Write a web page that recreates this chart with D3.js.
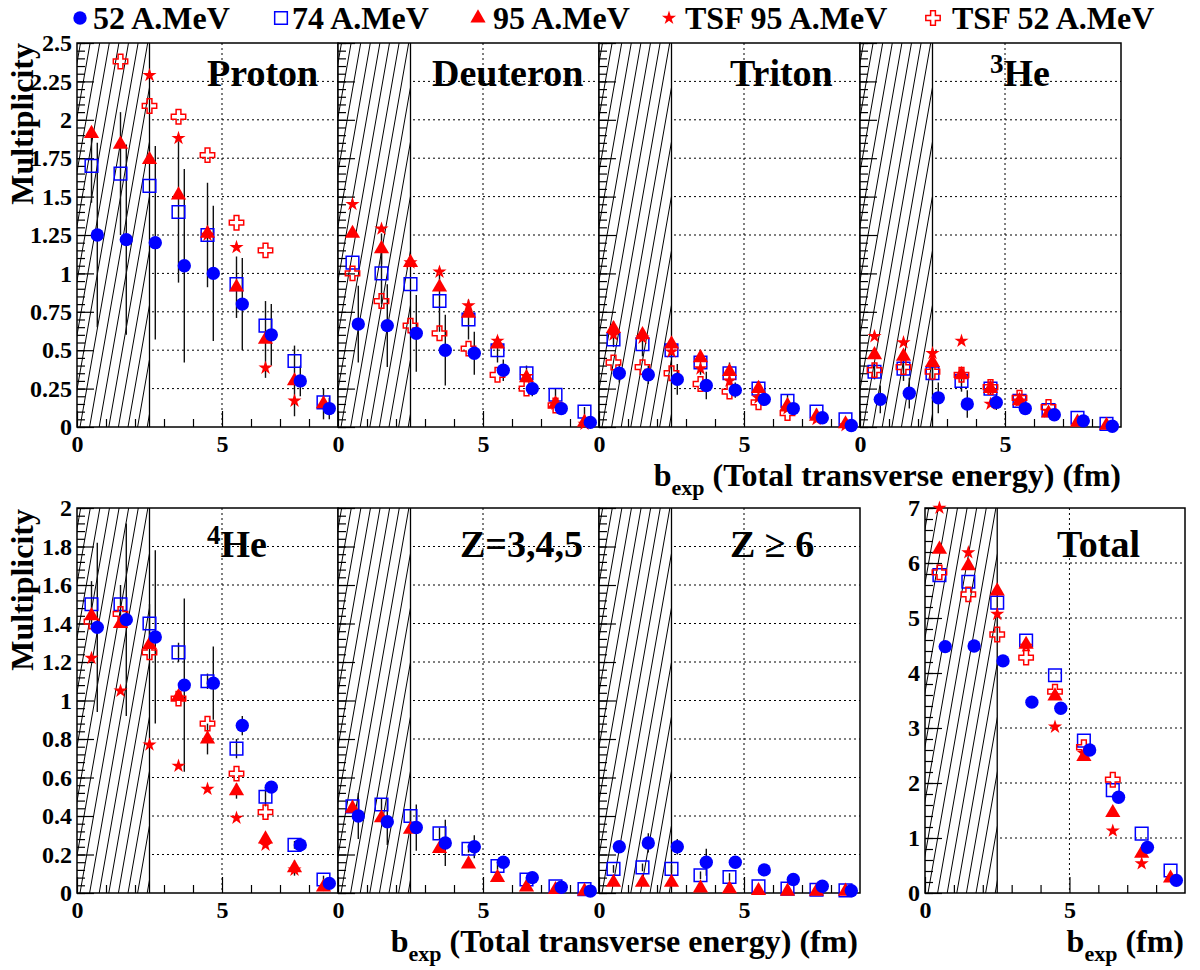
<!DOCTYPE html>
<html>
<head>
<meta charset="utf-8">
<script src="https://cdn.jsdelivr.net/npm/d3@7"></script>
<style>
  body { margin: 0; background: #fff; }
  svg text { font-family: "Liberation Serif", Tinos, "Times New Roman", Times, "Nimbus Roman", "Nimbus Roman No9 L", FreeSerif, "Noto Serif", "DejaVu Serif", serif; font-weight: bold; }
</style>
</head>
<body>
<div id="chart"></div>
<script>
// bin centres of b_exp (fm)
const bins = [0.5, 1.5, 2.5, 3.5, 4.5, 5.5, 6.5, 7.5, 8.5];

// panel order: Proton, Deuteron, Triton, 3He, 4He, Z=3,4,5, Z>=6, Total
const titleSup  = ["", "", "", "3", "4", "", "", ""];
const titleMain = ["Proton", "Deuteron", "Triton", "He", "He", "Z=3,4,5", "Z \u2265 6", "Total"];

const legendLabels = ["52 A.MeV", "74 A.MeV", "95 A.MeV", "TSF 95 A.MeV", "TSF 52 A.MeV"];

const mev52 = [
  [1.25, 1.22, 1.20, 1.05, 1.00, 0.80, 0.60, 0.30, 0.12],
  [0.67, 0.66, 0.61, 0.50, 0.48, 0.37, 0.25, 0.12, 0.03],
  [0.35, 0.34, 0.31, 0.27, 0.24, 0.18, 0.12, 0.06, 0.01],
  [0.18, 0.22, 0.19, 0.15, 0.16, 0.12, 0.08, 0.04, 0.005],
  [1.38, 1.42, 1.33, 1.08, 1.09, 0.87, 0.55, 0.25, 0.05],
  [0.40, 0.37, 0.34, 0.26, 0.24, 0.16, 0.08, 0.03, 0.01],
  [0.24, 0.26, 0.24, 0.16, 0.16, 0.12, 0.07, 0.035, 0.012],
  [4.48, 4.49, 4.22, 3.47, 3.36, 2.60, 1.74, 0.83, 0.23]
];
const mev52Err = [
  [0.60, 0.62, 0.63, 0.63, 0.44, 0.30, 0.20, 0.10, 0.07],
  [0.25, 0.27, 0.25, 0.23, 0.14, 0.07, 0.05, 0.04, 0.03],
  [0.06, 0.06, 0.10, 0.09, 0.05, 0.03, 0.02, 0.02, 0.01],
  [0.09, 0.10, 0.10, 0.09, 0.05, 0.03, 0.02, 0.01, 0.01],
  [0.44, 0.50, 0.45, 0.45, 0.19, 0.05, 0.03, 0.02, 0.02],
  [0.12, 0.12, 0.12, 0.12, 0.06, 0.02, 0.01, 0.01, 0.01],
  [0.02, 0.05, 0.04, 0.07, 0.02, 0.02, 0.03, 0.01, 0.01],
  [0, 0, 0, 0, 0, 0, 0, 0, 0]
];
const mev74 = [
  [1.70, 1.65, 1.57, 1.40, 1.25, 0.93, 0.66, 0.43, 0.16],
  [1.07, 1.00, 0.93, 0.82, 0.70, 0.50, 0.35, 0.21, 0.10],
  [0.57, 0.54, 0.50, 0.42, 0.35, 0.25, 0.17, 0.10, 0.05],
  [0.36, 0.38, 0.35, 0.30, 0.25, 0.17, 0.11, 0.06, 0.02],
  [1.50, 1.50, 1.40, 1.25, 1.10, 0.75, 0.50, 0.25, 0.07],
  [0.45, 0.46, 0.40, 0.31, 0.23, 0.14, 0.07, 0.035, 0.02],
  [0.125, 0.133, 0.125, 0.092, 0.083, 0.035, 0.023, 0.017, 0.014],
  [5.78, 5.66, 5.28, 4.59, 3.96, 2.77, 1.87, 1.08, 0.41]
];
const mev74Err = [
  [0.24, 0.40, 0, 0.46, 0.34, 0, 0, 0, 0],
  [0, 0.20, 0, 0.20, 0.13, 0.08, 0.05, 0.04, 0.03],
  [0.05, 0.08, 0.05, 0.08, 0.07, 0.05, 0.04, 0.02, 0.01],
  [0.05, 0.08, 0.05, 0.07, 0.04, 0.03, 0.02, 0.01, 0.01],
  [0.12, 0.10, 0.10, 0.05, 0.04, 0.05, 0.05, 0.02, 0.02],
  [0.03, 0.03, 0.03, 0.03, 0.02, 0.02, 0.01, 0.01, 0.01],
  [0.02, 0.02, 0.02, 0.02, 0.02, 0.01, 0.01, 0.01, 0.01],
  [0, 0, 0, 0, 0, 0, 0, 0, 0]
];
const mev95 = [
  [1.91, 1.84, 1.74, 1.51, 1.26, 0.91, 0.57, 0.30, 0.15],
  [1.26, 1.16, 1.07, 0.91, 0.74, 0.54, 0.32, 0.15, 0.03],
  [0.64, 0.60, 0.54, 0.45, 0.36, 0.25, 0.14, 0.07, 0.02],
  [0.47, 0.46, 0.42, 0.34, 0.25, 0.17, 0.09, 0.03, 0.01],
  [1.44, 1.40, 1.29, 1.02, 0.80, 0.53, 0.28, 0.13, 0.03],
  [0.44, 0.39, 0.33, 0.23, 0.15, 0.08, 0.03, 0.017, 0.009],
  [0.055, 0.055, 0.055, 0.026, 0.021, 0.012, 0.009, 0.009, 0.009],
  [6.25, 5.95, 5.49, 4.52, 3.58, 2.48, 1.46, 0.72, 0.27]
];
const mev95Err = [
  [0, 0, 0, 0, 0, 0.20, 0.25, 0.23, 0.10],
  [0, 0.10, 0, 0, 0, 0, 0, 0, 0],
  [0.05, 0, 0, 0, 0, 0, 0, 0, 0],
  [0, 0, 0, 0, 0, 0, 0, 0, 0],
  [0, 0, 0, 0, 0.08, 0.04, 0.03, 0.04, 0.02],
  [0, 0, 0, 0, 0, 0, 0, 0, 0],
  [0, 0, 0, 0, 0, 0, 0, 0, 0],
  [0, 0, 0, 0, 0, 0, 0, 0, 0]
];
const tsf95 = [
  [null, null, 2.29, 1.88, 1.25, 1.17, 0.385, 0.17, null],
  [1.45, 1.29, 1.07, 1.01, 0.79, 0.56, 0.33, 0.15, 0.02],
  [0.60, 0.58, 0.49, 0.38, 0.30, 0.19, 0.12, 0.05, 0.01],
  [0.59, 0.55, 0.48, 0.56, 0.15, 0.17, 0.10, null, null],
  [1.22, 1.05, 0.77, 0.66, 0.54, 0.39, 0.25, 0.12, null],
  [null, null, null, null, null, null, null, null, null],
  [null, null, null, null, null, null, null, null, null],
  [7.0, 6.19, 5.07, 4.49, 3.02, 2.54, 1.13, 0.535, null]
];
const tsf52 = [
  [null, 2.38, 2.09, 2.02, 1.77, 1.33, 1.15, null, null],
  [1.00, 0.82, 0.66, 0.61, 0.51, 0.34, 0.25, 0.14, null],
  [0.42, 0.39, 0.35, 0.28, 0.23, 0.16, 0.09, null, null],
  [0.37, 0.39, 0.36, 0.34, 0.26, 0.19, 0.13, null, null],
  [1.41, 1.45, 1.25, 1.01, 0.88, 0.62, 0.42, null, null],
  [null, null, null, null, null, null, null, null, null],
  [null, null, null, null, null, null, null, null, null],
  [5.83, 5.43, 4.70, 4.28, 3.66, 2.65, 2.06, null, null]
];

const blue = "#0000ff", red = "#ff0000";

// drawing styles per series (legend order)
const series = [
  { vals: mev52, err: mev52Err, sym: d3.symbolCircle,   size: 140, fill: blue,   stroke: "none", shift: 0.2 },
  { vals: mev74, err: mev74Err, sym: d3.symbolSquare,   size: 160, fill: "none", stroke: blue,   shift: 0 },
  { vals: mev95, err: mev95Err, sym: d3.symbolTriangle, size: 100, fill: red,    stroke: "none", shift: 0 },
  { vals: tsf95, err: null,     sym: d3.symbolStar,     size: 62,  fill: red,    stroke: "none", shift: 0 },
  { vals: tsf52, err: null,     sym: d3.symbolCross,    size: 115, fill: "none", stroke: red,    shift: 0 }
];
const drawOrder = [1, 2, 3, 4, 0];

// panel frames
const layout = [
  { x: 77,  y: 43,  w: 261, h: 384, ymax: 2.5, step: 0.25, minor: 0.05, labels: true,  tx: 130 },
  { x: 338, y: 43,  w: 261, h: 384, ymax: 2.5, step: 0.25, minor: 0.05, labels: false, tx: 94 },
  { x: 599, y: 43,  w: 261, h: 384, ymax: 2.5, step: 0.25, minor: 0.05, labels: false, tx: 131 },
  { x: 860, y: 43,  w: 261, h: 384, ymax: 2.5, step: 0.25, minor: 0.05, labels: false, tx: 130 },
  { x: 77,  y: 508, w: 261, h: 385, ymax: 2,   step: 0.2,  minor: 0.04, labels: true,  tx: 130 },
  { x: 338, y: 508, w: 261, h: 385, ymax: 2,   step: 0.2,  minor: 0.04, labels: false, tx: 122 },
  { x: 599, y: 508, w: 261, h: 385, ymax: 2,   step: 0.2,  minor: 0.04, labels: false, tx: 131 },
  { x: 925, y: 508, w: 260, h: 385, ymax: 7,   step: 1,    minor: 0.2,  labels: true,  tx: 132 }
];

const svg = d3.select("#chart").append("svg")
  .attr("width", 1200)
  .attr("height", 970);

const fmt = d => String(+d.toFixed(2));

layout.forEach((p, k) => {
  const g = svg.append("g");
  const x = d3.scaleLinear([0, 9], [p.x, p.x + p.w]);
  const y = d3.scaleLinear([0, p.ymax], [p.y + p.h, p.y]);
  const nMaj = Math.round(p.ymax / p.step);
  const majors = d3.range(0, nMaj + 1).map(i => +(i * p.step).toFixed(3));
  const nMin = Math.round(p.ymax / p.minor);
  const minors = d3.range(0, nMin + 1).map(i => +(i * p.minor).toFixed(3));

  // grid
  g.selectAll(".hgrid").data(majors.slice(1, -1)).join("line")
    .attr("x1", p.x).attr("x2", p.x + p.w)
    .attr("y1", d => y(d)).attr("y2", d => y(d))
    .attr("stroke", "#000").attr("stroke-width", 1).attr("stroke-dasharray", "2,3");
  g.append("line")
    .attr("x1", x(5)).attr("x2", x(5)).attr("y1", p.y).attr("y2", p.y + p.h)
    .attr("stroke", "#000").attr("stroke-width", 1).attr("stroke-dasharray", "2,3");

  // hatched region b < 2.5 fm
  const clipId = "hatch" + k;
  svg.append("clipPath").attr("id", clipId).append("rect")
    .attr("x", x(0)).attr("y", p.y).attr("width", x(2.5) - x(0)).attr("height", p.h);
  const hg = g.append("g").attr("clip-path", `url(#${clipId})`);
  hg.append("rect").attr("x", x(0)).attr("y", p.y)
    .attr("width", x(2.5) - x(0)).attr("height", p.h).attr("fill", "#fff");
  const slant = Math.tan(10 * Math.PI / 180) * p.h;
  hg.selectAll("line").data(d3.range(-12, 12)).join("line")
    .attr("x1", d => x(0) + 3 + d * 9.6).attr("y1", p.y + p.h)
    .attr("x2", d => x(0) + 3 + d * 9.6 + slant).attr("y2", p.y)
    .attr("stroke", "#000").attr("stroke-width", 1);
  g.append("line")
    .attr("x1", x(2.5)).attr("x2", x(2.5)).attr("y1", p.y).attr("y2", p.y + p.h)
    .attr("stroke", "#000").attr("stroke-width", 1.3);

  // axes
  const yMaj = g.append("g").attr("transform", `translate(${p.x},0)`)
    .call(d3.axisLeft(y).tickValues(majors).tickSizeInner(-17).tickSizeOuter(0)
      .tickPadding(5).tickFormat(p.labels ? fmt : ""));
  const yMin = g.append("g").attr("transform", `translate(${p.x},0)`)
    .call(d3.axisLeft(y).tickValues(minors).tickSize(-8).tickFormat(""));
  const xMaj = g.append("g").attr("transform", `translate(0,${p.y + p.h})`)
    .call(d3.axisBottom(x).tickValues([0, 5]).tickSizeInner(-16).tickSizeOuter(0)
      .tickPadding(8).tickFormat(d3.format("d")));
  const xMin = g.append("g").attr("transform", `translate(0,${p.y + p.h})`)
    .call(d3.axisBottom(x).tickValues([1, 2, 3, 4, 6, 7, 8]).tickSize(-8).tickFormat(""));
  [yMaj, yMin, xMaj, xMin].forEach(a => {
    a.select(".domain").remove();
    a.attr("font-family", null).attr("font-size", 24);
    a.selectAll("line").attr("stroke", "#000").attr("stroke-width", 1.2);
    a.selectAll("text").attr("fill", "#000");
  });

  // frame
  g.append("rect").attr("x", p.x).attr("y", p.y).attr("width", p.w).attr("height", p.h)
    .attr("fill", "none").attr("stroke", "#000").attr("stroke-width", 1.5);

  // error bars
  series.forEach(s => {
    if (!s.err) return;
    bins.forEach((b, i) => {
      const v = s.vals[k][i], e = s.err[k][i];
      if (v == null || !e) return;
      g.append("line")
        .attr("x1", x(b + s.shift)).attr("x2", x(b + s.shift))
        .attr("y1", y(Math.max(0, v - e))).attr("y2", y(Math.min(p.ymax, v + e)))
        .attr("stroke", "#111").attr("stroke-width", 1.4);
    });
  });

  // markers
  drawOrder.forEach(si => {
    const s = series[si];
    const pts = bins.map((b, i) => ({ b, v: s.vals[k][i] }))
      .filter(d => d.v != null && d.v <= p.ymax * 1.001);
    g.selectAll(".m" + si).data(pts).join("path")
      .attr("d", d3.symbol().type(s.sym).size(s.size))
      .attr("transform", d => `translate(${x(d.b + s.shift)},${y(d.v)})`)
      .attr("fill", s.fill).attr("stroke", s.stroke).attr("stroke-width", 1.5);
  });

  // panel title
  const t = g.append("text").attr("x", p.x + p.tx).attr("y", p.y + (k < 4 ? 43 : 49))
    .attr("font-size", 38);
  if (titleSup[k]) {
    t.append("tspan").attr("font-size", 27).attr("dy", -13).text(titleSup[k]);
    t.append("tspan").attr("dy", 13).text(titleMain[k]);
  } else {
    t.text(titleMain[k]);
  }
});

// y axis titles
[43, 509].forEach(ty => {
  svg.append("text")
    .attr("transform", `translate(33,${ty}) rotate(-90)`)
    .attr("text-anchor", "end").attr("font-size", 32)
    .text("Multiplicity");
});

// x axis titles
function xTitle(xr, yb, rest) {
  const t = svg.append("text").attr("x", xr).attr("y", yb)
    .attr("text-anchor", "end").attr("font-size", 32);
  t.append("tspan").text("b");
  t.append("tspan").attr("font-size", 22).attr("dy", 9).text("exp");
  t.append("tspan").attr("dy", -9).text(rest);
}
xTitle(1121, 486, " (Total transverse energy) (fm)");
xTitle(858, 952, " (Total transverse energy) (fm)");
xTitle(1184, 952, " (fm)");

// legend
const legX = [80, 281, 478, 669, 933];
const legT = [93, 292, 493, 685, 952];
series.forEach((s, i) => {
  svg.append("path")
    .attr("d", d3.symbol().type(s.sym).size(s.size))
    .attr("transform", `translate(${legX[i]},18)`)
    .attr("fill", s.fill).attr("stroke", s.stroke).attr("stroke-width", 1.5);
  svg.append("text").attr("x", legT[i]).attr("y", 29).attr("font-size", 32)
    .text(legendLabels[i]);
});
</script>
</body>
</html>
